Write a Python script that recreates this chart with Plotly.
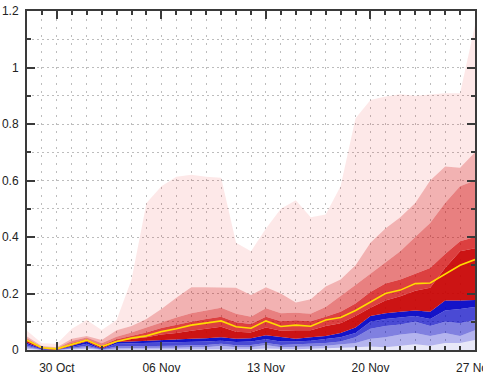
import plotly.graph_objects as go

dates = ["2020-10-28", "2020-10-29", "2020-10-30", "2020-10-31", "2020-11-01", "2020-11-02",
         "2020-11-03", "2020-11-04", "2020-11-05", "2020-11-06", "2020-11-07", "2020-11-08",
         "2020-11-09", "2020-11-10", "2020-11-11", "2020-11-12", "2020-11-13", "2020-11-14",
         "2020-11-15", "2020-11-16", "2020-11-17", "2020-11-18", "2020-11-19", "2020-11-20",
         "2020-11-21", "2020-11-22", "2020-11-23", "2020-11-24", "2020-11-25", "2020-11-26",
         "2020-11-27"]

# band upper boundaries (cumulative), bottom to top
b1 = [.004, 0, 0, .002, .004, 0, .002, .002, .002, .002, .002, .003, .003, .004, .003, .003, .005, .003, .003, .004, .005, .008, .010, .012, .010, .015, .020, .015, .025, .025, .035]
b2 = [.010, 0, 0, .005, .010, .001, .006, .007, .007, .008, .008, .010, .010, .015, .010, .010, .018, .010, .010, .012, .015, .020, .025, .040, .045, .055, .060, .050, .060, .050, .070]
b3 = [.015, .001, 0, .008, .015, .002, .012, .013, .013, .014, .015, .017, .018, .022, .017, .018, .025, .018, .020, .022, .025, .030, .045, .075, .085, .090, .100, .085, .100, .095, .106]
b4 = [.020, .002, 0, .012, .022, .003, .022, .024, .025, .026, .027, .029, .030, .033, .028, .030, .038, .030, .030, .033, .038, .045, .060, .100, .110, .115, .120, .110, .140, .145, .152]
b5 = [.026, .004, 0, .016, .030, .004, .028, .030, .033, .035, .037, .040, .042, .045, .040, .042, .052, .045, .040, .045, .050, .060, .080, .120, .130, .135, .140, .135, .175, .175, .177]
r1 = [.032, .006, .002, .020, .033, .010, .033, .040, .045, .055, .060, .068, .075, .082, .065, .062, .080, .068, .070, .070, .085, .095, .120, .150, .175, .190, .210, .220, .290, .350, .360]
r2 = [.036, .008, .004, .025, .038, .016, .038, .050, .062, .078, .090, .100, .110, .118, .098, .092, .118, .102, .105, .102, .118, .135, .165, .205, .235, .250, .270, .290, .340, .385, .400]
r3 = [.042, .010, .006, .032, .044, .024, .047, .062, .080, .098, .115, .130, .140, .150, .128, .118, .148, .130, .132, .128, .152, .190, .230, .270, .310, .350, .400, .450, .520, .580, .600]
r4 = [.048, .014, .010, .040, .050, .035, .070, .085, .110, .145, .185, .222, .222, .220, .220, .195, .222, .200, .168, .180, .225, .250, .300, .380, .430, .470, .520, .600, .650, .645, .700]
r5 = [.068, .024, .022, .075, .106, .071, .106, .250, .520, .580, .613, .620, .613, .610, .380, .350, .430, .500, .530, .470, .480, .580, .820, .885, .897, .905, .900, .905, .909, .909, 1.15]
mean_line = [.035, .008, .004, .020, .035, .012, .030, .042, .050, .065, .075, .088, .095, .103, .082, .077, .103, .083, .088, .084, .106, .115, .140, .170, .200, .212, .235, .237, .270, .300, .320]

bands = [b1, b2, b3, b4, b5, r1, r2, r3, r4, r5]
band_colors = ["#e8e8f8", "#b4b4ee", "#8080e0", "#4a4ad4", "#1414c8",
               "#cc1414", "#dc4040", "#e88080", "#f2b2b2", "#fde8e8"]


def to_rgba(hexc):
    t = [int(hexc[i:i + 2], 16) for i in (1, 3, 5)]
    a = max((255 - c) / 255 for c in t)
    a = max(a, 0.01)
    c = [max(0, min(255, round((v - (1 - a) * 255) / a))) for v in t]
    return f"rgba({c[0]},{c[1]},{c[2]},{a:.3f})"


fig = go.Figure()
for k, (yv, col) in enumerate(zip(bands, band_colors)):
    fig.add_trace(go.Scatter(
        x=dates, y=yv, mode="lines", line=dict(width=0),
        fill="tozeroy" if k == 0 else "tonexty",
        fillcolor=to_rgba(col), hoverinfo="skip", showlegend=False))

fig.add_trace(go.Scatter(x=dates, y=mean_line, mode="lines",
                         line=dict(color="#ffdc00", width=1.6), showlegend=False))

axis_col = "#3a3a3a"
grid_col = "#bdbdbd"
fig.update_layout(
    width=483, height=377,
    margin=dict(l=27, r=8, t=11, b=27, autoexpand=False),
    plot_bgcolor="white", paper_bgcolor="white",
    font=dict(family="Liberation Sans, Arial", size=12, color="#222"),
    showlegend=False,
    xaxis=dict(
        type="date", range=["2020-10-28", "2020-11-27"], automargin=False,
        tick0="2020-10-30", dtick=7 * 86400000, tickformat="%d %b",
        ticklabeloverflow="allow",
        ticks="inside", ticklen=8, tickwidth=1.5, tickcolor=axis_col,
        showline=True, linecolor=axis_col, linewidth=2, mirror="allticks",
        showgrid=True, gridcolor=grid_col, griddash="2px,6px", gridwidth=1,
        zeroline=False, ticklabelstandoff=6, layer="above traces",
        minor=dict(dtick=86400000, tick0="2020-10-28", ticks="inside", ticklen=4,
                   tickwidth=1.5, tickcolor=axis_col, showgrid=True,
                   gridcolor=grid_col, griddash="2px,6px", gridwidth=1),
    ),
    yaxis=dict(
        range=[0, 1.2], dtick=0.2, tick0=0, automargin=False,
        ticklabeloverflow="allow",
        ticks="inside", ticklen=8, tickwidth=1.5, tickcolor=axis_col,
        showline=True, linecolor=axis_col, linewidth=2, mirror="allticks",
        showgrid=True, gridcolor=grid_col, griddash="2px,3px", gridwidth=1,
        zeroline=False, ticklabelstandoff=4, layer="above traces",
        minor=dict(dtick=0.1, tick0=0, ticks="inside", ticklen=4,
                   tickwidth=1.5, tickcolor=axis_col, showgrid=True,
                   gridcolor=grid_col, griddash="2px,3px", gridwidth=1),
    ),
)

fig.write_html("out.html", config={"displayModeBar": False},
               post_script="document.body.style.margin='0';document.body.style.overflow='hidden';")
